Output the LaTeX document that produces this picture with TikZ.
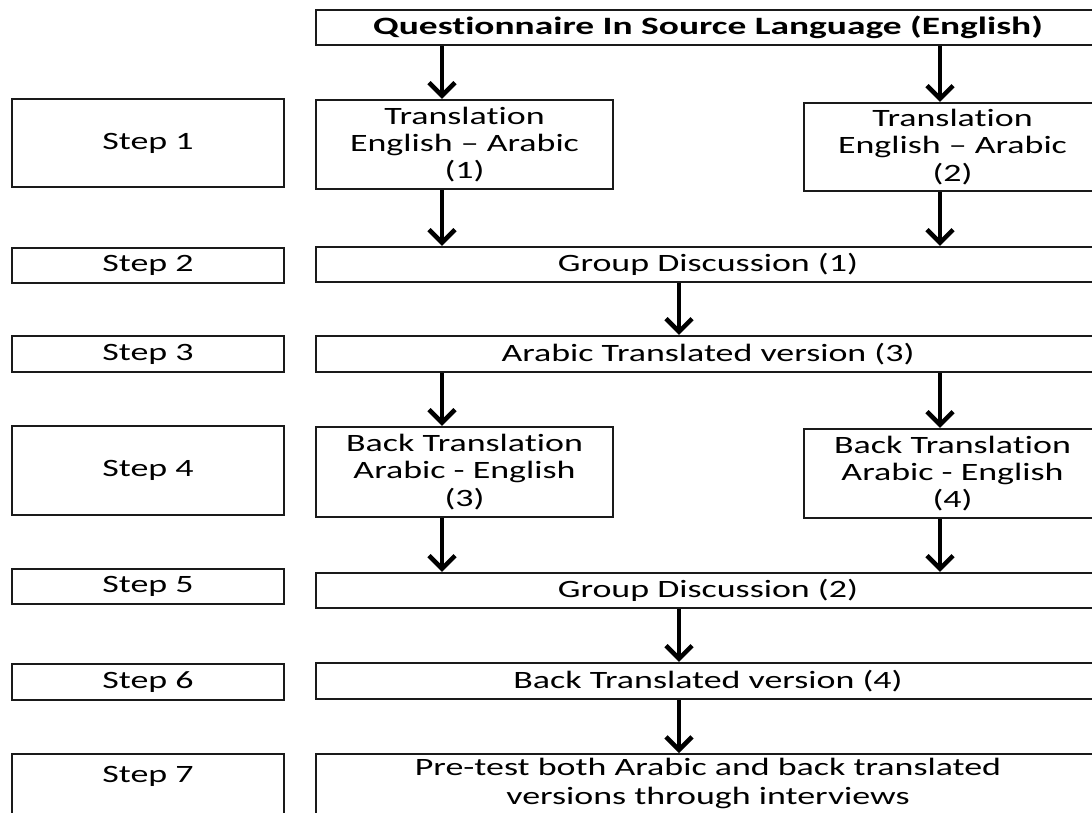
\documentclass[tikz,border=0pt]{standalone}
\usepackage{fontspec}
\setmainfont{Carlito}[FakeStretch=1.44, Ligatures={TeX,NoCommon}]
\usetikzlibrary{arrows.meta}
\definecolor{ink}{HTML}{000000}
\definecolor{frame}{HTML}{1A1A1A}

\begin{document}
\begin{tikzpicture}[
    x=0.02cm, y=-0.02cm, line width=1.2pt, color=ink,
    flow/.style={-{Straight Barb[length=0.26cm,width=0.52cm]}, line width=2.6pt},
    box/.style 2 args={draw=frame, line width=1.2pt, minimum width=#1*0.02cm,
                       minimum height=#2*0.02cm, inner sep=0pt, align=center,
                       font=\fontsize{14.2}{15.5}\selectfont, text=ink},
    stepbox/.style={box={272}{#1}},
    open/.style={anchor=north, text depth=1.4cm}]
  % fixed 1092 x 812 px canvas, boxes run off the right and bottom edges
  \useasboundingbox (0,0) rectangle (1092,812);
  \clip (0,0) rectangle (1092,812);

  % ================= step labels =================
  \node[stepbox=88] (s1) at (148,143) {Step 1};
  \node[stepbox=35] (s2) at (148,265.5) {Step 2};
  \node[stepbox=36] (s3) at (148,354) {Step 3};
  \node[stepbox=89] (s4) at (148,470.5) {Step 4};
  \node[stepbox=35] (s5) at (148,586.5) {Step 5};
  \node[stepbox=36] (s6) at (148,682) {Step 6};
  \node[stepbox=10, open, inner ysep=0.24cm] (s7) at (148,753) {Step 7};

  % ================= translation flow =================
  \node[box={784}{35}, font=\fontsize{14.2}{15.5}\selectfont\bfseries\addfontfeature{FakeStretch=1.5}]
    (q) at (708,27.5) {Questionnaire In Source Language (English)};
  \node[box={297}{89}] (t1) at (464.5,144.5) {Translation\\English -- Arabic\\(1)};
  \node[box={297}{88}] (t2) at (952.5,147) {Translation\\English -- Arabic\\(2)};
  \node[box={784}{35}] (g1) at (708,264.5) {Group Discussion (1)};
  \node[box={784}{36}] (a3) at (708,354) {Arabic Translated version (3)};
  \node[box={297}{90}] (b3) at (464.5,472) {Back Translation\\Arabic - English\\(3)};
  \node[box={297}{89}] (b4) at (952.5,473.5) {Back Translation\\Arabic - English\\(4)};
  \node[box={784}{35}] (g2) at (708,590.5) {Group Discussion (2)};
  \node[box={784}{36}] (bv) at (708,681) {Back Translated version (4)};
  \node[box={784}{10}, open, inner ysep=0.08cm] (pt) at (708,753)
    {Pre-test both Arabic and back translated\\[1pt]versions through interviews};

  % ================= arrows =================
  \coordinate (lx) at (442,0);
  \coordinate (rx) at (940,0);
  \coordinate (mx) at (679,0);
  \draw[flow] (q.south -| lx) -- (t1.north -| lx);
  \draw[flow] (q.south -| rx) -- (t2.north -| rx);
  \draw[flow] (t1.south -| lx) -- (g1.north -| lx);
  \draw[flow] (t2.south -| rx) -- (g1.north -| rx);
  \draw[flow] (g1.south -| mx) -- (a3.north -| mx);
  \draw[flow] (a3.south -| lx) -- (b3.north -| lx);
  \draw[flow] (a3.south -| rx) -- (b4.north -| rx);
  \draw[flow] (b3.south -| lx) -- (g2.north -| lx);
  \draw[flow] (b4.south -| rx) -- (g2.north -| rx);
  \draw[flow] (g2.south -| mx) -- (bv.north -| mx);
  \draw[flow] (bv.south -| mx) -- (pt.north -| mx);
\end{tikzpicture}
\end{document}
